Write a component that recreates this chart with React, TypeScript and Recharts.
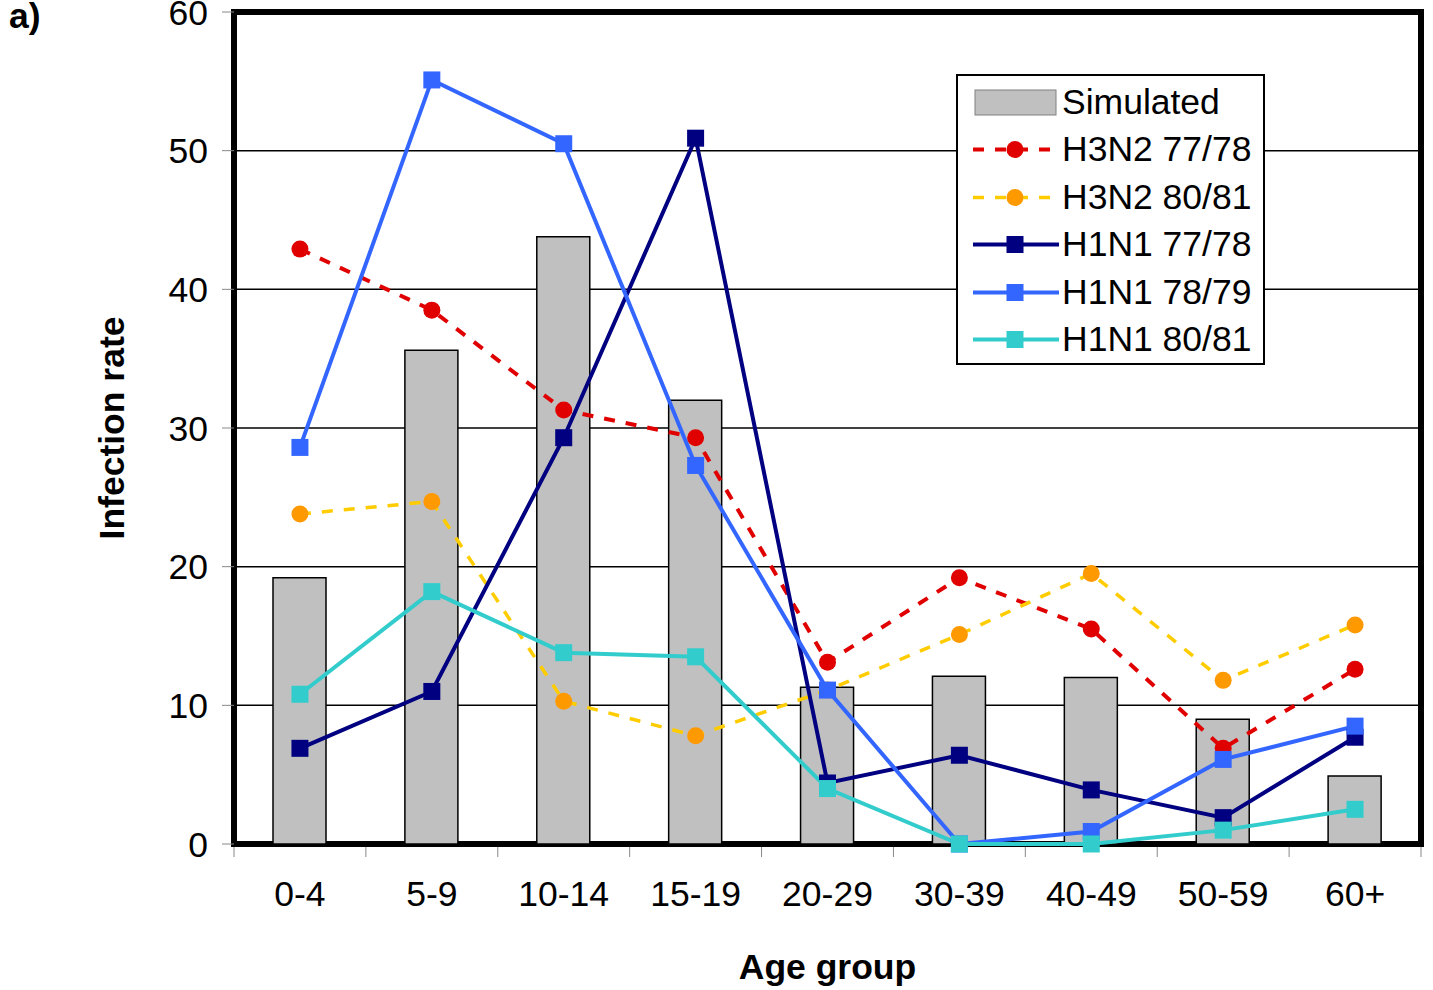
import { Bar, CartesianGrid, ComposedChart, Line, XAxis, YAxis, usePlotArea } from "recharts";

const ageGroups = ["0-4", "5-9", "10-14", "15-19", "20-29", "30-39", "40-49", "50-59", "60+"];
const simulated = [19.2, 35.6, 43.8, 32.0, 11.3, 12.1, 12.0, 9.0, 4.9];
const h3n2_7778 = [42.9, 38.5, 31.3, 29.3, 13.1, 19.2, 15.5, 6.9, 12.6];
const h3n2_8081 = [23.8, 24.7, 10.3, 7.8, 11.1, 15.1, 19.5, 11.8, 15.8];
const h1n1_7778 = [6.9, 11.0, 29.3, 50.9, 4.4, 6.4, 3.9, 1.9, 7.7];
const h1n1_7879 = [28.6, 55.1, 50.5, 27.3, 11.1, 0, 0.9, 6.1, 8.5];
const h1n1_8081 = [10.8, 18.2, 13.8, 13.5, 4.0, 0, 0, 1.0, 2.5];
const yTicks = [0, 10, 20, 30, 40, 50, 60];

const W = 1433;
const H = 990;
const ML = 234;
const MR = 12;
const MT = 12;
const MB = 146;
const FONT = "'Liberation Sans', Arial, sans-serif";
const FS = 35.5;

type Series = {
  key: string;
  name: string;
  line: string;
  marker: string;
  shape: "circle" | "square";
  dash?: string;
  width: number;
};

const series: Series[] = [
  { key: "h3n2_7778", name: "H3N2 77/78", line: "#E00000", marker: "#E00000", shape: "circle", dash: "11 11", width: 4 },
  { key: "h3n2_8081", name: "H3N2 80/81", line: "#FFCC00", marker: "#FF9900", shape: "circle", dash: "11 11", width: 3.5 },
  { key: "h1n1_7778", name: "H1N1 77/78", line: "#000080", marker: "#000080", shape: "square", width: 4 },
  { key: "h1n1_7879", name: "H1N1 78/79", line: "#3366FF", marker: "#3366FF", shape: "square", width: 4 },
  { key: "h1n1_8081", name: "H1N1 80/81", line: "#33CCCC", marker: "#33CCCC", shape: "square", width: 4 },
];

const rows = ageGroups.map((age, i) => ({
  age,
  simulated: simulated[i],
  h3n2_7778: h3n2_7778[i],
  h3n2_8081: h3n2_8081[i],
  h1n1_7778: h1n1_7778[i],
  h1n1_7879: h1n1_7879[i],
  h1n1_8081: h1n1_8081[i],
}));

function makeDot(s: Series) {
  return (p: any) => {
    const k = `${s.key}-${p.index}`;
    if (p.cx == null || p.cy == null) return <g key={k} />;
    if (s.shape === "circle") {
      return <circle key={k} cx={p.cx} cy={p.cy} r={8.5} fill={s.marker} />;
    }
    return <rect key={k} x={p.cx - 8.5} y={p.cy - 8.5} width={17} height={17} fill={s.marker} />;
  };
}

const halfBand = (W - ML - MR) / ageGroups.length / 2;

function AgeTick(props: any) {
  const { x, y, payload, index } = props;
  return (
    <g>
      <line x1={x - halfBand} x2={x - halfBand} y1={y + 3} y2={y + 13} stroke="#888" strokeWidth={1} />
      {index === ageGroups.length - 1 && (
        <line x1={x + halfBand} x2={x + halfBand} y1={y + 3} y2={y + 13} stroke="#888" strokeWidth={1} />
      )}
      <text x={x} y={y + 62} textAnchor="middle" fontSize={FS} fontFamily={FONT} fill="#000">
        {payload.value}
      </text>
    </g>
  );
}

function XTitle(props: any) {
  const vb = props.viewBox;
  return (
    <text x={vb.x + vb.width / 2} y={vb.y + 135} textAnchor="middle" fontSize={FS} fontWeight="bold" fontFamily={FONT} fill="#000">
      Age group
    </text>
  );
}

function YTitle(props: any) {
  const vb = props.viewBox;
  const cx = 124;
  const cy = vb.y + vb.height / 2;
  return (
    <text x={cx} y={cy} textAnchor="middle" transform={`rotate(-90 ${cx} ${cy})`} fontSize={FS} fontWeight="bold" fontFamily={FONT} fill="#000">
      Infection rate
    </text>
  );
}

// thick black box round the plot area
function Frame() {
  const area = usePlotArea();
  if (!area) return null;
  return <rect x={area.x} y={area.y} width={area.width} height={area.height} fill="none" stroke="#000" strokeWidth={6} />;
}

function LegendBox() {
  return (
    <div
      style={{
        position: "absolute",
        left: 956,
        top: 74,
        width: 305,
        height: 287,
        border: "2px solid #000",
        background: "#fff",
        fontFamily: FONT,
        fontSize: FS,
        color: "#000",
      }}
    >
      <div style={{ position: "absolute", left: 0, top: 3, height: 47, display: "flex", alignItems: "center" }}>
        <svg width={104} height={47}>
          <rect x={17} y={11} width={81} height={25} fill="#C0C0C0" stroke="#808080" strokeWidth={1} />
        </svg>
        <span style={{ lineHeight: "47px" }}>Simulated</span>
      </div>
      {series.map((s, i) => (
        <div key={s.key} style={{ position: "absolute", left: 0, top: 50 + i * 47.5, height: 47, display: "flex", alignItems: "center" }}>
          <svg width={104} height={47}>
            <line x1={15} x2={101} y1={23.5} y2={23.5} stroke={s.line} strokeWidth={s.width} strokeDasharray={s.dash} />
            {s.shape === "circle" ? (
              <circle cx={57} cy={23.5} r={8.5} fill={s.marker} />
            ) : (
              <rect x={48.5} y={15} width={17} height={17} fill={s.marker} />
            )}
          </svg>
          <span style={{ lineHeight: "47px" }}>{s.name}</span>
        </div>
      ))}
    </div>
  );
}

export default function App() {
  return (
    <div style={{ position: "absolute", left: 0, top: 0, width: W, height: H, background: "#fff" }}>
      <div style={{ position: "absolute", left: 9, top: -4, fontFamily: FONT, fontSize: FS, fontWeight: "bold" }}>a)</div>
      <ComposedChart
        width={W}
        height={H}
        data={rows}
        margin={{ top: MT, right: MR, bottom: 0, left: 0 }}
        barCategoryGap={0}
      >
        <CartesianGrid vertical={false} stroke="#000" strokeWidth={1.5} />
        <XAxis
          dataKey="age"
          height={MB}
          interval={0}
          tickLine={false}
          tickSize={0}
          tickMargin={0}
          axisLine={false}
          tick={<AgeTick />}
          label={<XTitle />}
        />
        <YAxis
          width={ML}
          domain={[0, 60]}
          ticks={yTicks}
          interval={0}
          tickSize={12}
          tickMargin={14}
          tickLine={{ stroke: "#888", strokeWidth: 1 }}
          axisLine={false}
          tick={{ fontSize: FS, fill: "#000", fontFamily: FONT }}
          label={<YTitle />}
        />
        <Bar dataKey="simulated" name="Simulated" barSize={53} fill="#C0C0C0" stroke="#000" strokeWidth={1.5} isAnimationActive={false} />
        <Frame />
        {series.map((s) => (
          <Line
            key={s.key}
            type="linear"
            dataKey={s.key}
            name={s.name}
            stroke={s.line}
            strokeWidth={s.width}
            strokeDasharray={s.dash}
            dot={makeDot(s)}
            activeDot={false}
            isAnimationActive={false}
          />
        ))}
      </ComposedChart>
      <LegendBox />
    </div>
  );
}
